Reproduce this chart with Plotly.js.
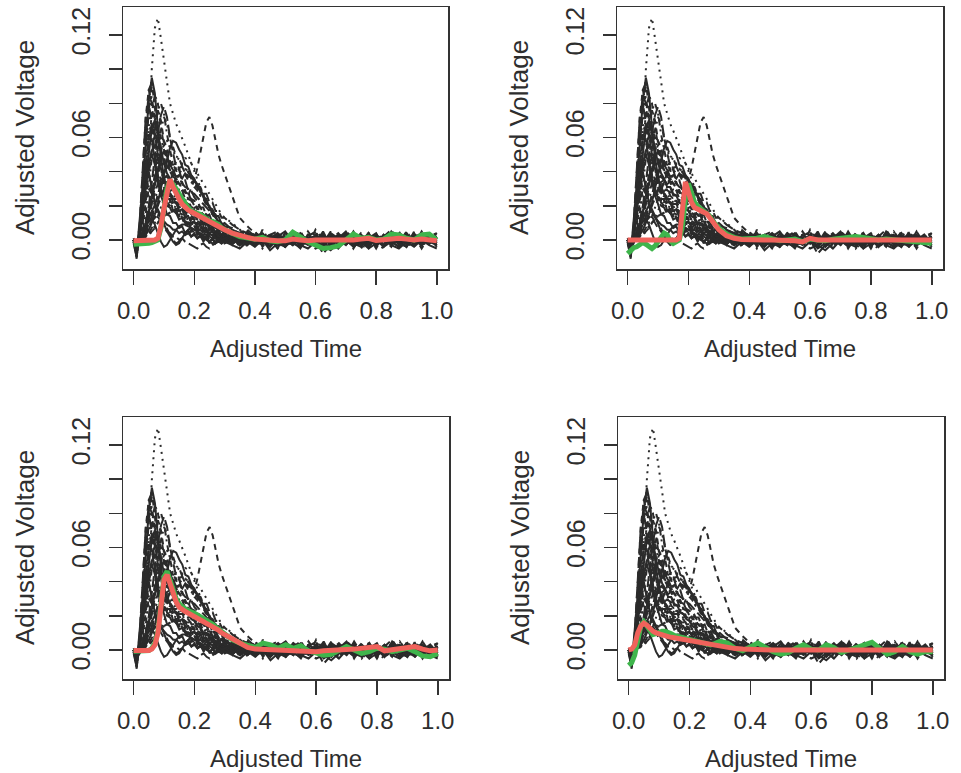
<!DOCTYPE html>
<html><head><meta charset="utf-8">
<script src="https://cdn.plot.ly/plotly-3.0.1.min.js"></script>
<style>html,body{margin:0;padding:0;background:#fff;} #chart{width:961px;height:773px;}</style>
</head><body><div id="chart"></div>
<script>
// ---- data ----
const timeGrid = [0,.01,.02,.03,.04,.05,.06,.07,.08,.09,.1,.11,.12,.13,.14,.15,.16,.17,.18,.19,.2,.21,.22,.23,.24,.25,.26,.27,.28,.29,.3,
 .325,.35,.375,.4,.425,.45,.475,.5,.525,.55,.575,.6,.625,.65,.675,.7,.725,.75,.775,.8,.825,.85,.875,.9,.925,.95,.975,1];

// individual (black) curves, same in every panel
const curve01 = [-.002,-.01,.005,.03,.058,.082,.095,.086,.066,.048,.037,.029,.027,.022,.022,.017,.018,.013,.014,.01,.011,.007,.009,.005,.006,.004,.005,.002,.004,.001,.002,
 0,.002,-.001,.003,-.002,.001,.004,0,-.003,.002,.001,-.002,.003,-.001,0,.004,-.002,.001,-.003,.002,0,.003,-.001,-.004,.001,.002,-.001,0];
const curve02 = [0,-.004,.008,.04,.072,.088,.08,.06,.045,.034,.031,.024,.024,.017,.018,.012,.013,.008,.01,.005,.007,.003,.005,.001,.004,0,.003,-.001,.002,-.002,.001,
 -.001,.002,-.003,.001,.003,-.002,0,-.004,.002,.001,-.001,.003,-.002,-.004,0,.002,-.001,.004,.001,-.002,.003,0,-.003,.001,.002,-.002,0,.001];
const curve03 = [0,-.003,.002,.01,.03,.062,.1,.124,.13,.118,.105,.09,.08,.074,.068,.064,.06,.055,.05,.045,.04,.035,.03,.026,.022,.018,.015,.012,.01,.008,.006,
 .004,.002,.003,0,.001,-.002,.002,-.001,0,.003,-.002,.001,-.001,.002,0,-.003,.001,.002,-.001,0,.003,-.002,.001,0,-.001,.002,-.002,.001];
const curve04 = [.001,-.002,0,.006,.015,.03,.048,.064,.076,.08,.074,.062,.053,.044,.041,.035,.034,.029,.028,.023,.023,.018,.018,.014,.014,.01,.011,.007,.008,.005,.005,
 .003,.001,.002,-.001,.002,0,-.002,.003,.001,-.003,0,.002,-.001,.004,.001,-.002,0,.003,-.003,.001,.002,-.001,0,-.002,.003,.001,-.001,.002];
const curve05 = [-.001,-.003,.001,.004,.01,.02,.034,.05,.063,.073,.078,.072,.06,.051,.043,.041,.035,.035,.029,.029,.025,.023,.019,.019,.014,.015,.01,.011,.007,.008,.004,
 .003,.002,0,.002,-.001,.001,.003,-.002,0,.002,-.003,.001,0,-.001,.003,.002,-.002,0,.001,-.004,.002,0,.003,-.001,.001,-.002,0,.002];
const curve06 = [0,-.005,.004,.018,.036,.052,.065,.07,.062,.052,.045,.039,.036,.031,.031,.026,.026,.022,.021,.018,.017,.014,.013,.01,.01,.007,.007,.005,.005,.003,.003,
 .001,-.001,.002,0,-.003,.001,.002,-.002,.004,0,-.001,.001,-.004,.002,0,.001,-.002,.003,0,-.001,.002,-.003,.001,0,.002,-.001,.003,-.002];
const curve07 = [-.001,-.008,.003,.025,.055,.08,.084,.07,.052,.041,.032,.028,.023,.021,.017,.017,.013,.013,.01,.01,.007,.008,.004,.006,.002,.004,.001,.003,-.001,.002,-.002,
 0,.001,-.002,.002,-.001,.003,0,-.003,.001,.002,-.002,0,.001,-.001,.003,-.002,0,.002,-.001,.001,-.003,.002,0,.004,-.001,-.002,.001,0];
const curve08 = [0,-.002,0,.003,.008,.014,.022,.032,.042,.05,.056,.058,.055,.052,.049,.047,.044,.042,.04,.037,.034,.031,.028,.025,.022,.019,.017,.014,.012,.01,.008,
 .005,.003,.001,.002,0,-.001,.002,0,-.002,.001,.003,-.001,0,.002,-.002,.001,0,-.001,.003,.001,-.002,0,.002,-.001,.001,0,-.002,.001];
const curve09 = [.001,-.004,.002,.012,.026,.04,.052,.061,.065,.06,.052,.046,.04,.039,.034,.034,.029,.029,.024,.024,.02,.019,.015,.015,.012,.012,.008,.009,.005,.006,.003,
 .002,.003,-.001,.001,.002,-.002,0,.003,-.001,-.003,.001,.002,0,-.002,.001,.003,-.001,0,.002,-.002,.001,-.001,.003,0,-.002,.002,.001,-.001];
const curve10 = [-.001,-.002,0,.002,.005,.009,.014,.02,.027,.033,.039,.043,.046,.044,.045,.042,.043,.039,.04,.036,.036,.032,.031,.027,.027,.022,.022,.017,.017,.013,.013,
 .009,.006,.004,.003,.001,.002,-.001,.001,0,.002,-.002,.001,-.001,0,.003,-.001,.001,-.002,.002,0,-.001,.001,.003,-.002,0,.001,-.001,.002];
const curve11 = [0,-.006,.006,.02,.034,.045,.05,.044,.034,.026,.021,.015,.014,.01,.01,.007,.008,.004,.006,.002,.004,.001,.003,-.001,.002,-.002,.001,-.002,.002,-.001,0,
 -.002,.001,0,-.003,.002,-.001,.001,-.004,0,.002,-.002,.001,.003,-.001,-.005,0,.002,-.001,.001,-.002,0,.003,-.003,.001,-.001,.002,0,-.002];
const curve12 = [0,-.003,.001,.005,.01,.016,.022,.028,.033,.036,.034,.03,.028,.024,.024,.021,.021,.018,.018,.015,.015,.012,.012,.009,.01,.006,.007,.004,.005,.002,.003,
 .001,-.001,.002,0,.003,-.002,.001,-.001,.002,0,-.003,.001,.002,-.002,0,.001,.003,-.001,0,-.002,.002,.001,-.001,.003,0,-.003,.001,0];
const curve13 = [-.001,-.004,0,.003,.006,.01,.014,.018,.021,.024,.025,.024,.022,.02,.019,.017,.016,.014,.013,.012,.01,.009,.008,.007,.006,.005,.004,.003,.003,.002,.001,
 0,.002,-.001,.001,-.002,0,.003,.001,-.001,.002,-.002,0,.001,-.001,.002,0,-.003,.001,0,.002,-.001,.001,-.002,0,.002,-.001,.001,0];
const curve14 = [0,-.005,.004,.02,.05,.076,.09,.084,.068,.054,.045,.037,.035,.029,.028,.023,.023,.019,.019,.015,.015,.011,.012,.008,.009,.006,.006,.003,.005,.002,.003,
 0,.002,-.002,.001,.003,-.001,0,-.003,.002,.001,-.002,.004,0,-.001,.001,-.003,.002,0,-.002,.003,.001,-.001,0,.002,-.003,.001,.002,-.001];
const curve15 = [0,-.003,-.001,.002,.005,.008,.011,.013,.015,.014,.01,.006,.003,0,-.002,-.001,.001,.003,.004,.005,.005,.004,.003,.002,.002,.001,0,-.001,0,-.001,0,
 -.002,0,-.003,-.001,.001,-.002,0,-.004,-.001,.001,-.002,-.005,-.003,0,-.002,.001,-.001,-.003,0,-.002,.001,-.001,-.004,0,-.002,-.001,.001,-.002];
const curve16 = [0,-.002,0,.001,.003,.006,.01,.015,.022,.03,.038,.046,.054,.058,.057,.053,.05,.044,.043,.038,.036,.031,.03,.025,.024,.019,.018,.014,.014,.009,.01,
 .006,.004,.002,.003,0,.002,-.001,.001,-.002,.003,0,-.001,.002,-.002,.001,0,.003,-.001,-.003,.001,.002,0,-.002,.001,.003,-.001,0,.002];
const curve17 = [0,-.002,0,.001,.002,.003,.005,.007,.01,.012,.014,.015,.016,.017,.018,.019,.021,.023,.026,.03,.035,.042,.05,.06,.069,.072,.067,.058,.05,.044,.039,
 .026,.013,.008,.004,.002,.001,-.001,.002,0,-.002,.001,.003,-.001,0,.002,-.002,.001,0,-.001,.003,0,-.002,.001,.002,-.001,0,.001,-.001];
const curve18 = [0,-.003,.003,.01,.018,.027,.035,.04,.037,.031,.026,.023,.021,.019,.018,.016,.015,.013,.012,.01,.009,.008,.007,.005,.005,.003,.003,.002,.001,.001,0,
 -.001,.001,-.002,0,.002,-.001,.001,-.003,0,.002,-.001,0,.001,-.002,.002,0,-.001,.003,-.002,0,.001,-.001,.002,-.003,0,.001,-.001,0];
const curve19 = [0,-.002,.001,.004,.009,.016,.026,.038,.052,.064,.072,.068,.06,.055,.049,.048,.043,.042,.037,.037,.032,.031,.026,.025,.02,.019,.015,.014,.01,.01,.006,
 .004,.003,.001,.002,-.001,.001,0,-.002,.002,.001,-.001,.003,0,-.002,.001,.002,-.001,0,-.003,.001,.002,0,-.001,.001,-.002,.003,0,-.001];
const curve20 = [-.001,-.007,.005,.016,.025,.03,.027,.02,.014,.01,.007,.005,.004,.002,.002,0,.001,-.001,-.002,-.003,-.004,-.005,-.003,-.002,-.004,-.005,-.003,-.002,-.001,-.002,0,
 -.001,-.003,0,-.002,.001,-.001,-.003,0,-.002,-.004,-.001,0,-.008,-.003,0,-.002,-.001,.001,-.003,-.002,0,-.001,-.004,-.002,0,-.003,-.001,-.002];
const curve21 = [0,-.003,.001,.004,.009,.016,.024,.033,.041,.048,.052,.049,.044,.041,.037,.038,.036,.039,.037,.038,.034,.033,.028,.027,.021,.02,.015,.014,.01,.009,.006,
 .003,.004,.001,.003,0,.002,-.001,.001,.003,-.002,0,.002,-.001,.001,-.002,.003,0,-.001,.002,0,-.003,.001,.002,-.001,0,.003,-.002,.001];
const curve22 = [0,-.004,.002,.01,.022,.038,.055,.07,.076,.07,.058,.049,.041,.039,.034,.033,.029,.028,.024,.023,.019,.019,.015,.015,.011,.011,.008,.008,.005,.006,.003,
 .002,0,.003,-.001,.001,.002,-.002,0,.001,.004,-.001,-.002,.002,0,-.001,.001,.003,-.002,0,.002,-.001,.001,0,-.002,.003,0,-.001,.002];
const curve23 = [0,-.002,-.001,0,.002,.004,.006,.008,.01,.012,.014,.015,.016,.018,.017,.016,.015,.014,.014,.013,.012,.011,.01,.009,.008,.008,.007,.006,.005,.004,.004,
 .003,.001,.002,0,-.001,.001,-.002,0,.002,-.001,.001,-.003,0,.001,-.001,.002,0,-.002,.001,0,-.001,.002,-.002,0,.001,-.001,0,.001];
const curve24 = [0,-.002,0,.001,.002,.004,.007,.01,.014,.019,.024,.03,.035,.039,.042,.041,.039,.038,.035,.034,.031,.029,.026,.024,.021,.019,.016,.015,.012,.011,.008,
 .006,.004,.003,.001,.002,0,-.002,.001,0,.002,-.001,.001,-.003,0,.002,-.001,.001,0,-.002,.003,0,-.001,.001,.002,-.002,0,.001,-.001];
const curve25 = [0,-.009,.004,.024,.046,.062,.058,.046,.036,.029,.025,.02,.019,.015,.016,.012,.013,.01,.01,.007,.008,.005,.006,.003,.005,.002,.003,.001,.002,-.001,.001,
 -.001,.002,0,-.002,.001,.003,-.001,0,-.003,.002,0,.001,-.002,.003,-.001,0,.002,-.001,-.004,.001,0,.002,-.001,.001,-.002,0,.003,-.001];
const curve26 = [0,-.004,0,.004,.008,.011,.012,.009,.004,-.001,-.004,-.003,0,.003,.006,.008,.009,.009,.008,.007,.006,.005,.004,.003,.003,.002,.001,.001,0,0,-.001,
 -.002,0,-.003,.001,-.001,-.004,0,-.002,.001,-.003,-.001,0,-.005,-.002,0,-.001,-.003,.001,-.002,0,-.004,-.001,.001,-.002,-.003,0,-.001,-.003];
const curve27 = [0,-.005,.005,.016,.03,.044,.053,.055,.048,.04,.035,.029,.028,.024,.023,.019,.019,.016,.015,.012,.013,.009,.01,.007,.007,.004,.005,.003,.004,.001,.002,
 0,.002,-.001,.001,-.002,.003,.001,-.001,.002,0,-.002,.001,-.001,.003,0,-.003,.002,.001,-.001,0,.002,-.002,.001,.003,-.001,0,-.002,.001];
const curve28 = [0,-.002,0,.001,.002,.003,.005,.007,.01,.013,.017,.021,.026,.031,.036,.041,.045,.048,.047,.045,.042,.039,.036,.033,.03,.027,.024,.021,.018,.015,.013,
 .01,.006,.004,.002,.003,.001,0,.002,-.001,.001,0,-.002,.001,.002,-.001,0,.001,-.002,.002,0,-.001,.001,0,-.002,.002,-.001,0,.001];
const curve29 = [0,-.003,.003,.014,.032,.054,.074,.085,.08,.066,.055,.045,.041,.035,.034,.029,.029,.024,.024,.019,.019,.015,.015,.011,.012,.008,.009,.005,.006,.003,.004,
 .001,.003,-.001,.002,0,-.002,.001,.002,-.001,.003,0,-.002,.001,0,.004,-.001,.001,-.002,0,.002,-.003,.001,0,.003,-.001,.001,-.002,.002];
const curve30 = [0,-.003,0,.002,.004,.007,.011,.015,.02,.025,.03,.034,.035,.033,.031,.027,.026,.022,.021,.018,.017,.014,.013,.01,.01,.007,.007,.004,.005,.002,.003,
 .001,-.002,0,.002,-.001,.001,-.003,0,.002,-.002,.001,0,-.001,.003,-.002,0,.001,-.001,.002,-.003,0,.001,-.002,.002,0,-.001,.001,-.002];
const curve31 = [0,-.008,.012,.032,.045,.04,.03,.022,.017,.013,.011,.009,.008,.006,.006,.004,.005,.003,.004,.002,.003,.001,.002,0,.002,-.001,.001,-.002,.001,-.001,0,
 .004,-.003,.005,-.002,.003,-.004,.002,.005,-.001,-.005,.003,0,.004,-.003,.001,.005,-.002,-.004,.003,.001,-.003,.005,0,-.002,.004,-.003,.002,-.004];
const curve32 = [0,-.006,.006,.022,.044,.06,.068,.062,.05,.042,.035,.031,.027,.025,.022,.021,.018,.017,.015,.014,.012,.011,.009,.009,.007,.007,.005,.005,.003,.004,.002,
 -.003,.004,-.002,.005,-.004,.001,-.005,.003,.002,-.003,.005,-.001,-.004,.004,-.002,.003,-.005,.002,.004,-.003,0,-.004,.005,-.001,.003,-.005,.002,.004];
const curve33 = [0,-.002,.001,.005,.01,.015,.02,.025,.028,.027,.024,.022,.019,.018,.016,.015,.013,.012,.011,.009,.008,.007,.006,.005,.004,.004,.003,.002,.002,.001,.001,
 .002,-.002,.003,-.001,.004,-.003,.001,-.004,.003,0,-.002,.005,-.003,.002,-.001,.004,-.004,.001,.003,-.002,-.005,.002,0,.004,-.003,.001,-.002,.003];
const curve34 = [-.001,-.01,.006,.03,.062,.088,.092,.078,.058,.044,.036,.031,.027,.025,.021,.02,.017,.016,.013,.013,.01,.01,.007,.008,.005,.006,.003,.004,.002,.003,0,
 .005,-.002,.003,-.004,.006,-.001,.002,-.003,.004,-.005,.001,.003,-.002,.005,-.004,0,.004,-.003,.002,-.005,.003,-.001,.005,-.002,-.004,.003,-.001,.004];
const curve35 = [0,-.003,.001,.005,.011,.019,.028,.037,.045,.05,.048,.043,.04,.037,.036,.034,.033,.031,.03,.028,.027,.025,.023,.021,.019,.017,.015,.013,.011,.01,.008,
 .007,.003,.006,.002,.004,-.001,.003,-.003,.002,.005,-.002,.001,-.004,.003,0,-.003,.005,-.002,.001,.004,-.004,.002,-.001,.003,-.003,.005,-.002,0];
const curve36 = [0,-.005,-.002,.003,.008,.013,.017,.02,.018,.014,.009,.005,.002,-.001,-.003,-.002,.001,.004,.006,.007,.006,.005,.003,.002,0,-.001,-.002,-.001,0,-.002,-.001,
 -.003,-.005,-.001,-.004,0,-.006,-.002,-.004,.001,-.003,-.005,-.001,-.003,-.006,-.002,0,-.004,-.001,-.005,-.002,.001,-.003,-.005,-.001,-.004,0,-.003,-.005];
const curve37 = [0,-.002,.001,.003,.007,.013,.021,.031,.042,.052,.058,.054,.046,.04,.036,.033,.031,.028,.027,.024,.023,.02,.019,.016,.015,.012,.011,.009,.008,.006,.005,
 .004,.006,.001,.005,-.001,.003,.005,-.002,.004,.001,-.003,.006,0,.003,-.002,.005,.001,-.001,.004,-.003,.002,.006,-.001,.003,0,.005,-.002,.002];
const curve38 = [0,-.004,.004,.016,.036,.058,.073,.075,.064,.05,.04,.034,.03,.027,.024,.022,.02,.018,.016,.014,.013,.011,.01,.008,.007,.006,.005,.004,.003,.002,.002,
 0,-.003,.002,-.004,.001,.003,-.005,.002,-.002,.004,-.003,.001,-.001,-.004,.003,-.002,.002,-.005,.001,.003,-.003,0,.002,-.004,.004,-.002,.001,-.003];
const curve39 = [0,-.003,0,.002,.005,.009,.014,.02,.026,.032,.036,.038,.035,.03,.026,.024,.022,.022,.021,.02,.018,.016,.014,.012,.01,.009,.008,.006,.005,.004,.003,
 .002,-.004,0,.003,-.005,.001,-.002,.004,-.001,-.004,.002,.005,-.003,0,-.005,.003,.001,-.002,.004,-.004,0,.003,-.002,.005,-.001,-.004,.002,-.001];
const curve40 = [0,-.011,.01,.045,.072,.08,.068,.05,.038,.03,.026,.022,.02,.017,.016,.014,.013,.011,.01,.008,.008,.006,.006,.004,.004,.003,.003,.001,.002,0,.001,
 -.002,.003,-.004,.005,-.001,.002,-.005,.004,0,-.003,.003,-.002,.005,-.004,.001,-.001,.004,-.003,-.005,.002,0,.004,-.002,-.004,.005,-.001,.003,-.003];

// estimated mean curves (green) and registered mean curves (red), one pair per panel
const greenPanel1 = [-.0025,-.0025,-.002,-.0025,-.002,-.002,-.0015,-.001,0,.007,.019,.03,.035,.033,.03,.027,.024,.021,.019,.017,.016,.0155,.015,.014,.0125,.011,.011,.01,.009,.007,.006,
 .004,.002,.001,.0005,.0015,-.0005,-.001,0,.0045,.0015,-.001,-.003,-.005,-.0045,-.0035,0,.0035,.001,.0015,0,.0005,.0035,.003,.001,0,.003,.0035,0];
const redPanel1 = [-.0005,-.0005,-.0005,-.0005,-.0005,-.0005,-.0005,0,.001,.008,.0185,.029,.0355,.031,.027,.024,.021,.019,.0175,.0165,.0155,.0145,.0135,.0125,.0115,.0105,.0097,.0088,.008,.007,.006,
 .004,.0025,.0015,.0005,0,-.0003,-.0005,-.0005,.0005,0,-.0005,0,0,0,0,-.0005,0,.0005,.001,-.0003,0,.0003,.001,.0005,0,.0005,0,-.0005];
const greenPanel2 = [-.008,-.0065,-.0045,-.004,-.0025,-.0015,-.0025,-.004,-.005,-.0035,-.001,.0015,.004,.003,-.0005,-.002,-.001,0,.008,.024,.033,.028,.022,.02,.0185,.017,.016,.014,.011,.009,.007,
 .0035,.0015,.0005,.0005,.001,.002,.0005,-.0005,0,.0005,-.001,.0005,0,-.0005,.0005,.001,.0015,.002,.0015,.001,0,.0005,0,-.0005,-.001,-.0015,-.002,-.002];
const redPanel2 = [0,0,0,0,0,0,0,0,0,0,0,0,0,0,0,0,0,.001,.015,.034,.028,.022,.019,.018,.017,.016,.0153,.013,.0105,.008,.006,
 .0025,.001,.0003,0,0,0,0,0,0,-.0005,-.0012,.001,0,0,0,0,0,0,0,0,0,0,0,0,0,0,0,0];
const greenPanel3 = [-.0008,-.0008,-.0005,-.0008,-.0005,-.0003,.001,.004,.011,.027,.043,.046,.041,.034,.03,.027,.025,.024,.023,.0225,.0215,.0205,.0195,.0185,.0175,.016,.015,.0135,.012,.0105,.0095,
 .006,.004,.003,.0015,.004,.003,.001,.003,.001,.0025,-.0005,-.0015,-.003,-.0025,0,.002,0,-.002,-.001,.001,.0005,-.001,0,.001,-.001,-.0035,-.004,-.002];
const redPanel3 = [-.0003,-.0003,-.0003,-.0003,-.0003,-.0003,.0005,.003,.01,.026,.041,.044,.038,.032,.028,.025,.0235,.0225,.0215,.0205,.0195,.0188,.018,.017,.016,.015,.014,.0127,.0115,.01,.009,
 .006,.0035,.0015,.0005,.0003,0,0,0,0,-.0005,-.001,-.001,-.0005,0,0,.0003,.0005,.001,.0015,.002,-.0005,0,.0005,.0015,.002,.0005,-.0005,0];
const greenPanel4 = [-.009,-.0075,-.003,.006,.014,.0165,.014,.011,.009,.0095,.0105,.011,.011,.0105,.0095,.0085,.008,.0075,.0075,.007,.0065,.006,.0055,.005,.0045,.004,.0035,.003,.0035,.0045,.005,
 .004,.001,-.0005,.002,.004,.0015,-.001,-.0025,-.0015,.001,.003,.0005,0,.003,.0015,-.0015,0,.002,.0035,.0045,.001,-.0025,-.001,.002,-.001,-.0025,-.001,-.001];
const redPanel4 = [0,.0005,.003,.01,.014,.0157,.0145,.0125,.011,.01,.0093,.0087,.0082,.0078,.0074,.0071,.0068,.0065,.0061,.0058,.0054,.005,.0046,.0042,.0038,.0035,.0031,.0028,.0025,.0022,.0019,
 .0013,.0008,.0005,.0002,0,0,0,0,0,0,0,0,0,0,0,0,0,.0003,.0006,.0002,0,0,0,0,0,0,0,0];

const xTickValues = [0,0.2,0.4,0.6,0.8,1];
const xTickLabels = ['0.0','0.2','0.4','0.6','0.8','1.0'];
const yTickValues = [0,0.02,0.04,0.06,0.08,0.1,0.12];
const yTickLabels = ['0.00','','','0.06','','','0.12'];
const xTitleText = 'Adjusted Time';
const yTitleText = 'Adjusted Voltage';

// ---- drawing ----
const blackCurves = [curve01,curve02,curve03,curve04,curve05,curve06,curve07,curve08,curve09,curve10,
  curve11,curve12,curve13,curve14,curve15,curve16,curve17,curve18,curve19,curve20,
  curve21,curve22,curve23,curve24,curve25,curve26,curve27,curve28,curve29,curve30,
  curve31,curve32,curve33,curve34,curve35,curve36,curve37,curve38,curve39,curve40];
const greenCurves = [greenPanel1, greenPanel2, greenPanel3, greenPanel4];
const redCurves = [redPanel1, redPanel2, redPanel3, redPanel4];

const dashCycle = ['solid','6px,5px','2px,5px','2px,4px,6px,4px','11px,4px'];
const INK = '#2b2b2b';
const TXT = '#2e2e2e';
const FONT = 'Liberation Sans, Arial, Helvetica, sans-serif';
const W = 961, H = 773;
const boxes = [
  {l:123, r:448, t:7,   b:269},
  {l:617, r:943, t:7,   b:269},
  {l:123, r:449, t:417, b:679},
  {l:618, r:944, t:417, b:679}
];

const traces = [];
const layout = {
  width: W, height: H,
  margin: {l:0, r:0, t:0, b:0},
  paper_bgcolor: '#fff', plot_bgcolor: '#fff',
  showlegend: false,
  font: {family: FONT, color: TXT},
  annotations: []
};

boxes.forEach((bx, k) => {
  const n = k === 0 ? '' : String(k + 1);
  const xa = 'x' + n, ya = 'y' + n;
  blackCurves.forEach((c, i) => traces.push({
    type: 'scatter', mode: 'lines', x: timeGrid, y: c, xaxis: xa, yaxis: ya,
    line: {color: INK, width: 2, dash: dashCycle[i % dashCycle.length]},
    hoverinfo: 'skip', showlegend: false
  }));
  traces.push({type: 'scatter', mode: 'lines', x: timeGrid, y: greenCurves[k], xaxis: xa, yaxis: ya,
    line: {color: '#3fb54c', width: 5}, hoverinfo: 'skip', showlegend: false});
  traces.push({type: 'scatter', mode: 'lines', x: timeGrid, y: redCurves[k], xaxis: xa, yaxis: ya,
    line: {color: '#f0625b', width: 5}, hoverinfo: 'skip', showlegend: false});

  const xd = [bx.l / W, bx.r / W];
  const yd = [(H - bx.b) / H, (H - bx.t) / H];
  layout['xaxis' + n] = {
    domain: xd, anchor: ya, range: [-0.035, 1.037],
    tickmode: 'array', tickvals: xTickValues, ticktext: xTickLabels,
    ticks: 'outside', ticklen: 14, tickwidth: 1.5, tickcolor: '#333',
    showline: true, mirror: true, linecolor: '#333', linewidth: 1.5,
    showgrid: false, zeroline: false, fixedrange: true,
    tickfont: {family: FONT, size: 24, color: TXT}, ticklabelstandoff: 6
  };
  layout['yaxis' + n] = {
    domain: yd, anchor: xa, range: [-0.017, 0.1364],
    tickmode: 'array', tickvals: yTickValues, ticktext: yTickLabels, tickangle: -90,
    ticks: 'outside', ticklen: 13, tickwidth: 1.5, tickcolor: '#333',
    showline: true, mirror: true, linecolor: '#333', linewidth: 1.5,
    showgrid: false, zeroline: false, fixedrange: true,
    tickfont: {family: FONT, size: 25, color: TXT}, ticklabelstandoff: 9
  };
  layout.annotations.push({
    text: xTitleText, xref: 'paper', yref: 'paper',
    x: (xd[0] + xd[1]) / 2, y: (H - (bx.b + 79)) / H,
    xanchor: 'center', yanchor: 'middle', showarrow: false,
    font: {family: FONT, size: 24, color: TXT}
  });
  layout.annotations.push({
    text: yTitleText, xref: 'paper', yref: 'paper', textangle: -90,
    x: (bx.l - 98) / W, y: (yd[0] + yd[1]) / 2,
    xanchor: 'center', yanchor: 'middle', showarrow: false,
    font: {family: FONT, size: 26, color: TXT}
  });
});

Plotly.newPlot('chart', traces, layout, {staticPlot: true, displayModeBar: false});
</script>
</body></html>
